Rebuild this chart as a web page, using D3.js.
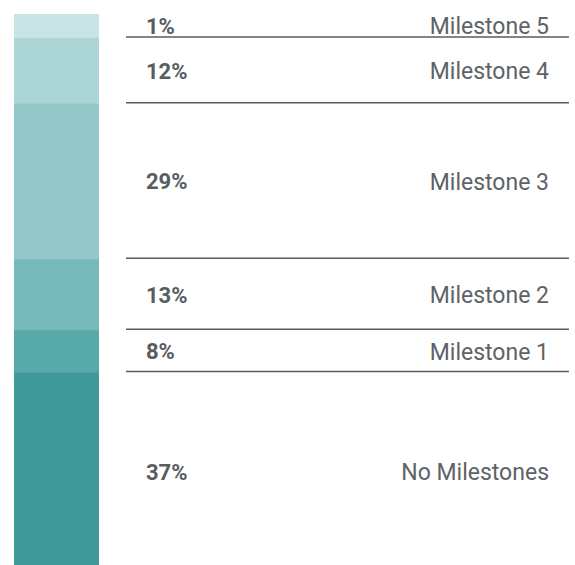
<!DOCTYPE html>
<html>
<head>
<meta charset="utf-8">
<script src="https://cdn.jsdelivr.net/npm/d3@7"></script>
<style>
  body { margin: 0; background: #fff; overflow: hidden; }
  text { font-family: Roboto, "Noto Sans", sans-serif; fill: #575d60; }
</style>
</head>
<body>
<div id="chart"></div>
<script>
// top to bottom
var names = ['Milestone 5', 'Milestone 4', 'Milestone 3', 'Milestone 2', 'Milestone 1', 'No Milestones'];
var pctLabels = ['1%', '12%', '29%', '13%', '8%', '37%'];
var shares = [1, 12.4, 29.4, 13.4, 8, 37.5];   // estimated underlying shares
var colors = ['#c8e3e4', '#acd5d6', '#93c7c8', '#75b9ba', '#58a9aa', '#3f9a9c'];

var width = 575, height = 565;
var barTop = 14, barBottom = 571, minH = 24;   // bar runs a little past the bottom edge

var svg = d3.select('#chart').append('svg')
    .attr('width', width)
    .attr('height', height)
    .style('display', 'block');

// small segments get a minimum height so the label fits
var small = shares.filter(function(d) { return d < 4; });
var bigTotal = d3.sum(shares.filter(function(d) { return d >= 4; }));
var h = d3.scaleLinear()
    .domain([0, bigTotal])
    .range([0, (barBottom - barTop) - small.length * minH]);

var segs = [], y0 = barTop;
shares.forEach(function(d, i) {
  var hh = d < 4 ? minH : h(d);
  segs.push({name: names[i], pct: pctLabels[i], color: colors[i], y: y0, h: hh});
  y0 += hh;
});

svg.selectAll('rect.seg')
  .data(segs)
  .enter().append('rect')
  .attr('class', 'seg')
  .attr('x', 14)
  .attr('width', 85)
  .attr('y', function(d) { return d.y; })
  .attr('height', function(d) { return d.h + 0.5; })
  .style('fill', function(d) { return d.color; });

// separator lines between segments
svg.selectAll('line.sep')
  .data(segs.slice(1))
  .enter().append('line')
  .attr('class', 'sep')
  .attr('x1', 126).attr('x2', 569)
  .attr('y1', function(d) { return d.y - 1; })
  .attr('y2', function(d) { return d.y - 1; })
  .style('stroke', '#575d60')
  .style('stroke-width', 1.5);

svg.selectAll('text.pct')
  .data(segs)
  .enter().append('text')
  .attr('class', 'pct')
  .attr('x', 146)
  .attr('y', function(d) { return d.y + d.h / 2; })
  .attr('dy', '0.36em')
  .style('font-size', '22px')
  .style('font-weight', 'bold')
  .text(function(d) { return d.pct; });

svg.selectAll('text.name')
  .data(segs)
  .enter().append('text')
  .attr('class', 'name')
  .attr('x', 549)
  .attr('y', function(d) { return d.y + d.h / 2; })
  .attr('dy', '0.36em')
  .attr('text-anchor', 'end')
  .style('font-size', '23px')
  .style('fill', '#5d6366')
  .text(function(d) { return d.name; });
</script>
</body>
</html>
